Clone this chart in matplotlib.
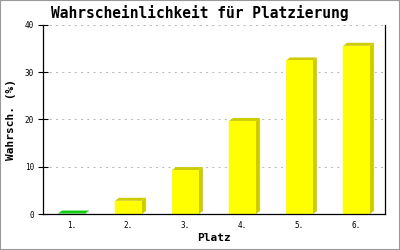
#!/usr/bin/env python3

import matplotlib
matplotlib.use("Agg")
import matplotlib.pyplot as plt
from matplotlib.patches import Polygon, Rectangle

# data
places = ["1.", "2.", "3.", "4.", "5.", "6."]
probability = [0.1, 2.8, 9.3, 19.7, 32.5, 35.6]
front_colors = ["#00ee00", "#ffff00", "#ffff00", "#ffff00", "#ffff00", "#ffff00"]
shade_colors = ["#11cc11", "#cccc00", "#cccc00", "#cccc00", "#cccc00", "#cccc00"]
y_ticks = [0, 10, 20, 30, 40]

MONO = "DejaVu Sans Mono"


def bars_3d(ax, width=0.47, dx=0.07, dy=0.63):
    x = range(len(places))
    ax.bar(x, probability, width=width, color=front_colors, zorder=3)
    for i, v in zip(x, probability):
        left, right = i - width / 2, i + width / 2
        side = Polygon([(right, 0), (right + dx, dy), (right + dx, v + dy), (right, v)],
                       closed=True, facecolor=shade_colors[i], edgecolor="none", zorder=2)
        top = Polygon([(left, v), (left + dx, v + dy), (right + dx, v + dy), (right, v)],
                      closed=True, facecolor=shade_colors[i], edgecolor="none", zorder=2)
        ax.add_patch(side)
        ax.add_patch(top)


def main() -> None:
    fig = plt.figure(figsize=(4.0, 2.5), dpi=100)
    ax = fig.add_axes([0.1075, 0.144, 0.855, 0.756])

    bars_3d(ax)

    ax.set_xlim(-0.5, 5.5)
    ax.set_ylim(0, 40)
    ax.set_xticks(range(len(places)))
    ax.set_xticklabels(places, family=MONO, fontsize=5.5)
    ax.set_yticks(y_ticks)
    ax.set_yticklabels([str(t) for t in y_ticks], family=MONO, fontsize=5.5)
    ax.tick_params(axis="x", length=0, pad=5)
    ax.tick_params(axis="y", direction="inout", length=7, width=0.8, pad=3)

    ax.grid(axis="y", color="#bbbbbb", linestyle=(0, (2, 4)), linewidth=0.75, zorder=0)
    ax.set_axisbelow(True)
    for side in ("left", "bottom", "right"):
        ax.spines[side].set_color("black")
        ax.spines[side].set_linewidth(0.9)
        ax.spines[side].set_zorder(5)
    ax.spines["top"].set_visible(False)

    ax.set_xlabel("Platz", family=MONO, fontweight="bold", fontsize=8, labelpad=2)
    ax.set_ylabel("Wahrsch. (%)", family=MONO, fontweight="bold", fontsize=8, labelpad=6)

    fig.text(0.5, 0.948, "Wahrscheinlichkeit für Platzierung", ha="center", va="center",
             family=MONO, fontsize=10.5, fontweight="bold")

    fig.add_artist(Rectangle((0, 0), 1, 1, transform=fig.transFigure, fill=False,
                             edgecolor="#999999", linewidth=1.5))

    fig.savefig("out.png", dpi=100)
    plt.close(fig)


if __name__ == "__main__":
    main()
